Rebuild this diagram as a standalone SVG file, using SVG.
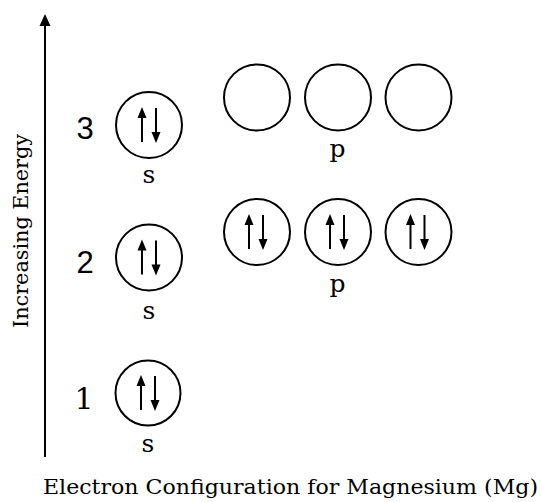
<svg xmlns="http://www.w3.org/2000/svg" width="541" height="502" viewBox="0 0 541 502">
<style>
.orb{fill:none;stroke:#000;stroke-width:2}
.e{stroke:#000;stroke-width:2;fill:none}
.lbl{font-family:"DejaVu Serif","Liberation Serif",serif;fill:#000}
.num{font-family:"Liberation Sans",Arial,sans-serif;font-size:31px;fill:#000;text-anchor:middle}
.sub{font-family:"DejaVu Serif","Liberation Serif",serif;font-size:25px;fill:#000;text-anchor:middle}
</style>
<defs>
<g id="pair">
<line class="e" x1="-7" y1="17" x2="-7" y2="-8"/>
<path d="M-11.5,-7 L-2.5,-7 L-7,-18 z" fill="#000"/>
<line class="e" x1="7" y1="-17" x2="7" y2="8"/>
<path d="M2.5,7 L11.5,7 L7,18 z" fill="#000"/>
</g>
</defs>
<g id="connectors">
<line x1="45" y1="457" x2="45" y2="24" stroke="#000" stroke-width="2"/>
<path d="M39.5,26 L50.5,26 L45,14 z" fill="#000"/>
</g>
<g id="axis-label">
<text class="lbl" font-size="21" transform="translate(28,231) rotate(-90)" text-anchor="middle" textLength="194" lengthAdjust="spacingAndGlyphs">Increasing Energy</text>
</g>
<g id="level3">
<text class="num" x="85" y="139">3</text>
<g id="s3"><circle class="orb" cx="149" cy="125" r="33"/><use href="#pair" x="149" y="125"/><text class="sub" x="149" y="183">s</text></g>
<g id="p3">
<circle class="orb" cx="257" cy="97.5" r="33"/>
<circle class="orb" cx="338" cy="97.5" r="33"/>
<circle class="orb" cx="418.5" cy="97.5" r="33"/>
<text class="sub" x="337.5" y="157">p</text>
</g>
</g>
<g id="level2">
<text class="num" x="85" y="273">2</text>
<g id="s2"><circle class="orb" cx="149" cy="257.5" r="33"/><use href="#pair" x="149" y="257.5"/><text class="sub" x="149" y="319">s</text></g>
<g id="p2">
<circle class="orb" cx="257" cy="232" r="33"/><use href="#pair" x="256" y="232"/>
<circle class="orb" cx="338" cy="232" r="33"/><use href="#pair" x="337" y="232"/>
<circle class="orb" cx="418.5" cy="232" r="33"/><use href="#pair" x="417.5" y="232"/>
<text class="sub" x="337.5" y="292">p</text>
</g>
</g>
<g id="level1">
<text class="lbl" font-size="30" x="84" y="409" text-anchor="middle">1</text>
<g id="s1"><circle class="orb" cx="148" cy="393" r="32.5"/><use href="#pair" x="148" y="393"/><text class="sub" x="148" y="452">s</text></g>
</g>
<g id="title">
<text class="lbl" font-size="20" x="43" y="494" textLength="495" lengthAdjust="spacingAndGlyphs">Electron Configuration for Magnesium (Mg)</text>
</g>
</svg>
